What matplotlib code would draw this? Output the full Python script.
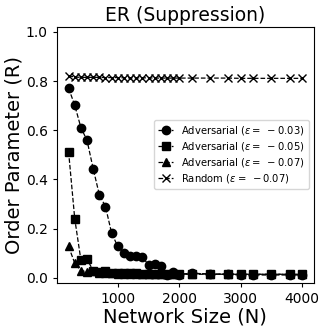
import matplotlib
matplotlib.use("Agg")
import matplotlib.pyplot as plt

# ── Data ───────────────────────────────────────────────────────────────────────
N = list(range(200, 2001, 100)) + [2200, 2500, 2800, 3000, 3200, 3500, 3800, 4000]

adv_003 = [0.771, 0.702, 0.611, 0.559, 0.444, 0.338, 0.290, 0.182, 0.128, 0.103,
           0.090, 0.090, 0.085, 0.053, 0.057, 0.049, 0.012, 0.025, 0.012,
           0.020, 0.015, 0.015, 0.012, 0.012, 0.012, 0.012, 0.012]
adv_005 = [0.513, 0.241, 0.073, 0.076, 0.030, 0.025, 0.030, 0.022, 0.020, 0.020,
           0.020, 0.020, 0.018, 0.018, 0.018, 0.018, 0.016, 0.016, 0.016,
           0.018, 0.016, 0.016, 0.015, 0.015, 0.015, 0.015, 0.015]
adv_007 = [0.128, 0.060, 0.030, 0.025, 0.028, 0.022, 0.020, 0.020, 0.018, 0.018,
           0.016, 0.016, 0.016, 0.015, 0.015, 0.015, 0.015, 0.015, 0.015,
           0.015, 0.015, 0.015, 0.015, 0.015, 0.015, 0.015, 0.015]
random_007 = [0.822, 0.816, 0.815, 0.815, 0.815, 0.815, 0.814, 0.814, 0.814, 0.813,
              0.813, 0.813, 0.813, 0.813, 0.812, 0.812, 0.812, 0.812, 0.812,
              0.812, 0.812, 0.812, 0.811, 0.811, 0.811, 0.811, 0.811]

SERIES = [
    (adv_003, "o", r"Adversarial ($\epsilon = \;-0.03$)"),
    (adv_005, "s", r"Adversarial ($\epsilon = \;-0.05$)"),
    (adv_007, "^", r"Adversarial ($\epsilon = \;-0.07$)"),
    (random_007, "x", r"Random ($\epsilon = \;-0.07$)"),
]

# ── Plot ───────────────────────────────────────────────────────────────────────
fig = plt.figure(figsize=(3.27, 3.32), dpi=100)
ax = fig.add_axes([0.174, 0.148, 0.786, 0.771])

for vals, mk, label in SERIES:
    ax.plot(N, vals, linestyle="--", color="black", linewidth=0.9,
            marker=mk, markersize=6, markeredgewidth=1.0, label=label)

ax.set_ylim(-0.02, 1.02)
ax.set_yticks([0.0, 0.2, 0.4, 0.6, 0.8, 1.0])
ax.set_xticks([1000, 2000, 3000, 4000])
ax.tick_params(labelsize=10, length=3)

ax.set_title("ER (Suppression)", fontsize=13.5, pad=4)
ax.set_xlabel("Network Size (N)", fontsize=14, labelpad=1)
ax.set_ylabel("Order Parameter (R)", fontsize=14, labelpad=2)

ax.legend(loc="center right", fontsize=7.2, handlelength=1.5,
          handletextpad=0.8, borderpad=0.4, labelspacing=0.3)

fig.savefig("out.png", dpi=100)
